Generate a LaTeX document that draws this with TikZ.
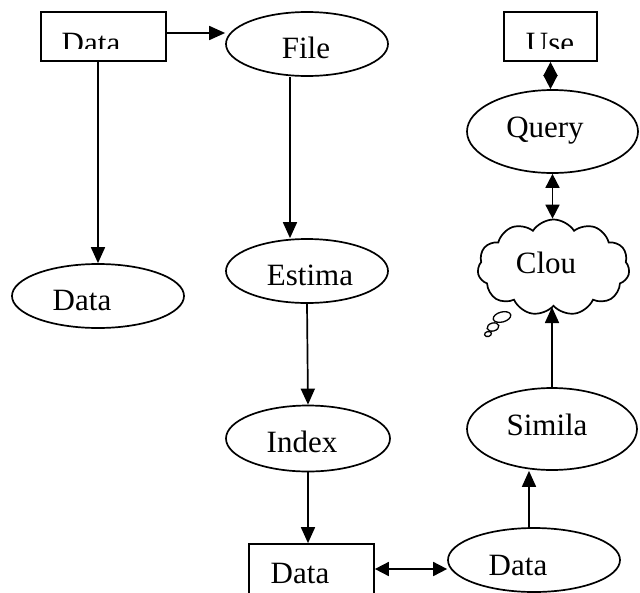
\documentclass[tikz,border=0pt]{standalone}
\usepackage{fontspec}
\setmainfont{Liberation Serif}
\usetikzlibrary{arrows.meta,shapes.geometric,shapes.symbols,calc}
\begin{document}
\begin{tikzpicture}[x=1pt,y=-1pt,
 shp/.style={draw,line width=1.7pt,inner sep=0pt},
 box/.style={shp,rectangle,minimum width=125pt,minimum height=49pt},
 ell/.style={shp,ellipse},
 lbl/.style={anchor=base,inner sep=0pt,font=\fontsize{31}{36}\selectfont},
 arr/.style={line width=1.7pt,-{Triangle[length=16pt,width=14pt]}},
 darr/.style={line width=1.7pt,{Triangle[length=14pt,width=14pt]}-{Triangle[length=14pt,width=14pt]}},
 bub/.style={shp,ellipse,line width=1.3pt}]
\useasboundingbox (0,0) rectangle (640,592);
% shapes
\node[box] (d1) at (103.5,36.5) {};
\node[box,minimum width=93pt] (use) at (550.5,36.5) {};
\node[box,minimum height=50pt] (d3) at (311.5,569) {};
\node[ell,minimum width=162pt,minimum height=64pt] (file) at (307,44) {};
\node[ell,minimum width=162pt,minimum height=64pt] (est) at (307,271) {};
\node[ell,minimum width=164pt,minimum height=66pt] (idx) at (308,438.5) {};
\node[ell,minimum width=172pt,minimum height=64pt] (d2) at (98,296) {};
\node[ell,minimum width=172pt,minimum height=64pt] (d4) at (534,560) {};
\node[ell,minimum width=170pt,minimum height=82pt] (sim) at (552,429) {};
\node[ell,minimum width=171pt,minimum height=83pt] (qry) at (552.5,131.5) {};
\node[shp,cloud,cloud puffs=11,cloud puff arc=115,aspect=1.7,minimum width=152pt,minimum height=96pt] (cl) at (553.5,267.5) {};
\node[bub,minimum width=18pt,minimum height=10pt,rotate=15] (b1) at (502,317) {};
\node[bub,minimum width=12pt,minimum height=8pt,rotate=15] (b2) at (493,327) {};
\node[bub,minimum width=7pt,minimum height=5pt,rotate=15] (b3) at (488,334) {};
% texts
\begin{scope}
\clip (41,12) rectangle (166,48);
\node[lbl] (t1) at (91,53) {Data};
\end{scope}
\begin{scope}
\clip (504,12) rectangle (597,48);
\node[lbl] (t2) at (550,53) {Use};
\end{scope}
\node[lbl] (t3) at (306,58) {File};
\node[lbl] (t4) at (82,310) {Data};
\node[lbl] (t5) at (310,285) {Estima};
\node[lbl] (t6) at (302,452) {Index};
\node[lbl] (t7) at (300,583) {Data};
\node[lbl] (t8) at (518,575) {Data};
\node[lbl] (t9) at (547,435) {Simila};
\node[lbl] (t10) at (546,273) {Clou};
\node[lbl] (t11) at (545,137) {Query};
% connectors
\draw[arr] ([yshift=3.5pt]d1.east) -- ([yshift=3.5pt]d1.east -| file.west);
\draw[arr] (d1.south -| d2.north) -- (d2.north);
\draw[arr] ([xshift=-17pt]file.south) -- ([xshift=-17pt]est.north);
\draw[arr] (est.south) -- (idx.north);
\draw[arr] (idx.south) -- (idx.south |- d3.north);
\draw[darr] (d3.east) -- (d3.east -| d4.west);
\draw[arr] ([xshift=-5pt]d4.north) -- ([xshift=-5pt]d4.north |- sim.south);
\draw[arr] (sim.north) -- (sim.north |- cl.south);
\draw[darr] (qry.south) -- (qry.south |- cl.north);
\draw[darr] (use.south) -- (use.south |- qry.north);
\end{tikzpicture}
\end{document}
